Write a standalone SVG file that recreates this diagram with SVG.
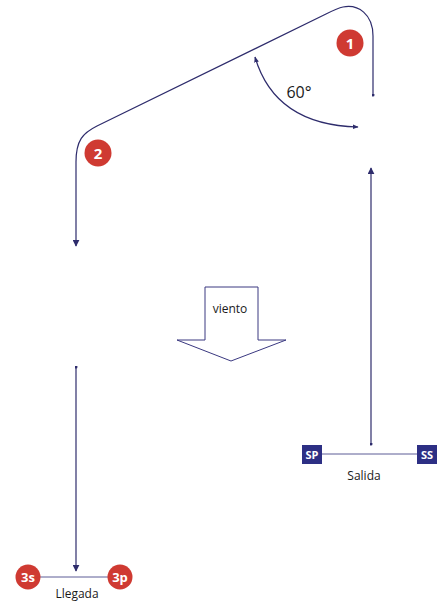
<svg xmlns="http://www.w3.org/2000/svg" width="442" height="607" viewBox="0 0 442 607">
<style>
.ln{fill:none;stroke:#2e2c6c;stroke-width:1.2}
.thin{fill:none;stroke:#4a4a8a;stroke-width:0.9}
.red{fill:#cf3a32}
.blue{fill:#2d2f84}
.wt{font-family:"Open Sans","Liberation Sans",sans-serif;font-weight:bold;fill:#fff;text-anchor:middle}
.lbl{font-family:"Open Sans","Liberation Sans",sans-serif;fill:#1a1a1a;text-anchor:middle}
</style>
<defs>
<marker id="ah" viewBox="0 0 10 10" refX="9" refY="5" markerWidth="7" markerHeight="7" markerUnits="userSpaceOnUse" orient="auto">
<path d="M0,0 L10,5 L0,10 z" fill="#2e2c6c"/>
</marker>
<marker id="sa" viewBox="0 0 10 10" refX="9" refY="5" markerWidth="6" markerHeight="6" markerUnits="userSpaceOnUse" orient="auto-start-reverse">
<path d="M0,1 L10,5 L0,9 z" fill="#2e2c6c"/>
</marker>
<marker id="dot" viewBox="0 0 4 4" refX="2" refY="2" markerWidth="3" markerHeight="3" markerUnits="userSpaceOnUse">
<circle cx="2" cy="2" r="2" fill="#2e2c6c"/>
</marker>
</defs>
<g id="connectors">
<path class="ln" d="M373,95 L373,36 C373,14 358,4 343,7 C338,8 334,10 326,14 L97,126 C83,133 76,140 76,162 L76,246" marker-start="url(#dot)" marker-end="url(#ah)"/>
<path class="ln" d="M371,444 L371,168" marker-start="url(#dot)" marker-end="url(#ah)"/>
<path class="ln" d="M76,367 L76,571" marker-start="url(#dot)" marker-end="url(#ah)"/>
<path class="ln" d="M255,57 Q275,125 358,127" marker-start="url(#sa)" marker-end="url(#sa)" stroke-width="0.9"/>
<line class="thin" x1="322" y1="454" x2="417" y2="454"/>
<line class="thin" x1="40" y1="577" x2="108" y2="577"/>
</g>
<g id="angle-label"><text class="lbl" x="299" y="98" font-size="16">60°</text></g>
<g id="wind">
<path d="M205,287 L258,287 L258,340 L286,340 L231,361 L177,340 L205,340 Z" fill="#fff" stroke="#3a3880" stroke-width="1"/>
<text class="lbl" x="230" y="313" font-size="12">viento</text>
</g>
<g id="mark1"><circle class="red" cx="350" cy="43" r="13.5"/><text class="wt" x="350" y="48.5" font-size="15">1</text></g>
<g id="mark2"><circle class="red" cx="98" cy="153" r="13.5"/><text class="wt" x="98" y="158.5" font-size="15">2</text></g>
<g id="SP"><rect class="blue" x="302" y="445" width="20" height="19"/><text class="wt" x="312" y="458.5" font-size="11">SP</text></g>
<g id="SS"><rect class="blue" x="417" y="445" width="20" height="19"/><text class="wt" x="427" y="458.5" font-size="11">SS</text></g>
<g id="salida"><text class="lbl" x="364" y="480" font-size="12">Salida</text></g>
<g id="m3s"><circle class="red" cx="28" cy="577" r="12.5"/><text class="wt" x="28" y="582" font-size="13">3s</text></g>
<g id="m3p"><circle class="red" cx="120" cy="577" r="12.5"/><text class="wt" x="120" y="582" font-size="13">3p</text></g>
<g id="llegada"><text class="lbl" x="77" y="598" font-size="12">Llegada</text></g>
</svg>
